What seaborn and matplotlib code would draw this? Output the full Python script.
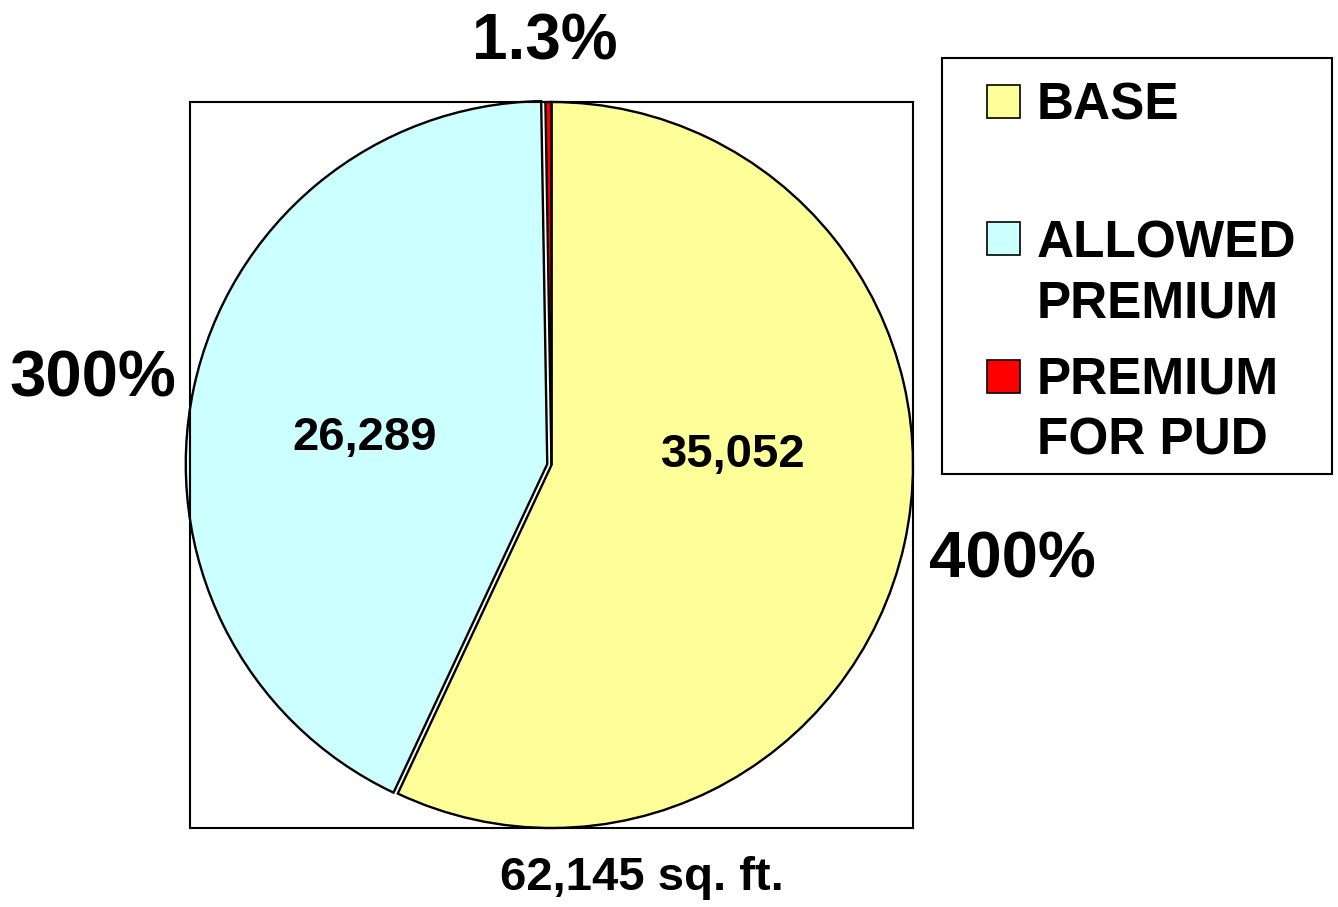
import matplotlib
matplotlib.use("Agg")
import matplotlib.pyplot as plt
import matplotlib.patches as mpatches
import seaborn as sns

sns.set_theme(style="white")
plt.rcParams['font.family'] = ['Liberation Sans', 'DejaVu Sans']
plt.rcParams['font.weight'] = 'bold'
plt.rcParams['text.color'] = 'black'

# data
categories = ["BASE", "ALLOWED\nPREMIUM", "PREMIUM\nFOR PUD"]
areas = [35052, 26289, 165]
area_labels = ["35,052", "26,289", ""]
colors = ["#FFFF99", "#CCFFFF", "#FF0000"]
total_label = "62,145 sq. ft."
far_labels = ["400%", "300%", "1.3%"]

W, H = 1338, 907
fig = plt.figure(figsize=(W / 100, H / 100), dpi=100)


def fx(px):
    return px / W


def fy(py):
    return 1 - py / H


# plot area box 190..913 x 102..828
ax = fig.add_axes([fx(190), fy(828), fx(913) - fx(190), fy(102) - fy(828)])
wedges, _ = ax.pie(areas, colors=colors, startangle=90, counterclock=False,
                   explode=[0, 0.012, 0], radius=1,
                   wedgeprops=dict(edgecolor='black', linewidth=1.7))
ax.set_aspect('auto')
ax.set_xlim(-1, 1)
ax.set_ylim(-1, 1)
ax.set_frame_on(True)
for s in ax.spines.values():
    s.set_visible(True)
    s.set_color('black')
    s.set_linewidth(1.5)
ax.set_xticks([])
ax.set_yticks([])

# value labels inside slices
fig.text(fx(733), fy(467), area_labels[0], ha='center', va='baseline', fontsize=34, fontweight='bold')
fig.text(fx(365), fy(450), area_labels[1], ha='center', va='baseline', fontsize=34, fontweight='bold')

# FAR labels
fig.text(fx(1012), fy(577), far_labels[0], ha='center', va='baseline', fontsize=47, fontweight='bold')
fig.text(fx(93), fy(396), far_labels[1], ha='center', va='baseline', fontsize=47, fontweight='bold')
fig.text(fx(545), fy(59), far_labels[2], ha='center', va='baseline', fontsize=46, fontweight='bold')

# total
fig.text(fx(642), fy(890), total_label, ha='center', va='baseline', fontsize=34, fontweight='bold')

# legend drawn by hand
fig.patches.append(mpatches.Rectangle((fx(942), fy(474)), fx(1332) - fx(942), fy(58) - fy(474),
                                      transform=fig.transFigure, fill=False,
                                      edgecolor='black', linewidth=1.5))
line_baselines = [[120], [257, 317], [393, 455]]
marker_tops = [85, 222, 360]
for cat, col, bases, mtop in zip(categories, colors, line_baselines, marker_tops):
    fig.patches.append(mpatches.Rectangle((fx(987), fy(mtop + 33)), fx(33), 33 / H,
                                          transform=fig.transFigure, facecolor=col,
                                          edgecolor='black', linewidth=1.2))
    for line, b in zip(cat.split("\n"), bases):
        fig.text(fx(1037), fy(b), line, ha='left', va='baseline', fontsize=37, fontweight='bold')

fig.savefig("out.png", dpi=100)
